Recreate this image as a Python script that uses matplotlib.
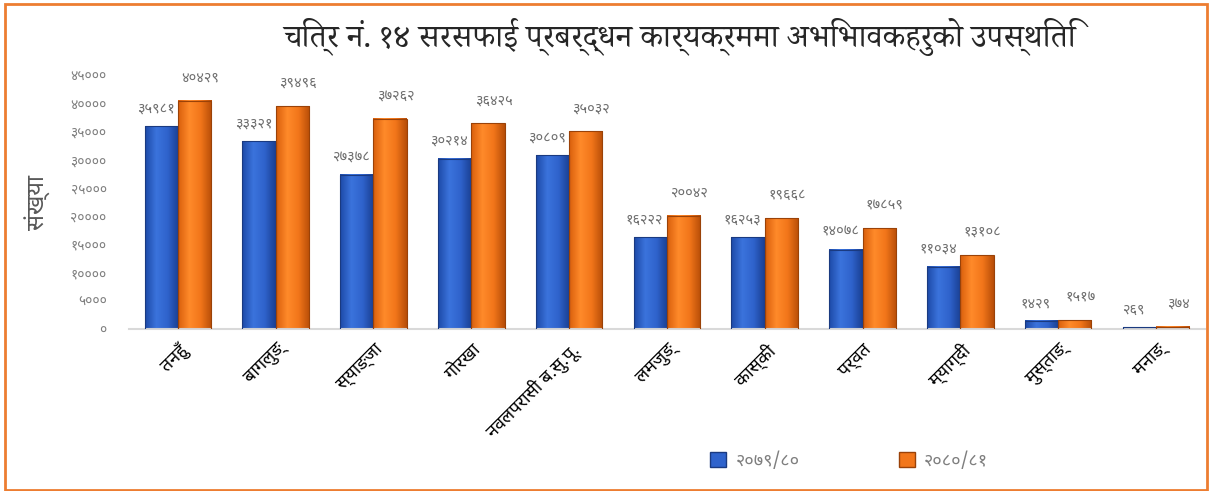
import numpy as np
import matplotlib
matplotlib.use("Agg")
import matplotlib.pyplot as plt
from matplotlib.patches import Rectangle
from matplotlib.colors import LinearSegmentedColormap

districts = ["तनहुँ", "बागलुङ्", "स्याङ्जा", "गोरखा", "नवलपरासी ब.सु.पू.", "लमजुङ्",
             "कास्की", "पर्वत", "म्याग्दी", "मुस्ताङ्", "मनाङ्"]
y2079 = [35981, 33321, 27378, 30214, 30809, 16222, 16253, 14078, 11034, 1429, 269]
y2080 = [40429, 39496, 37262, 36425, 35032, 20042, 19668, 17859, 13108, 1517, 374]
series_names = ["२०७९/८०", "२०८०/८१"]

DEV = str.maketrans("0123456789", "०१२३४५६७८९")
FONT = ["Noto Sans Devanagari", "DejaVu Sans"]
plt.rcParams["font.family"] = FONT

fig = plt.figure(figsize=(12.13, 4.91), dpi=100)
ax = fig.add_axes([0.1063, 0.330, 0.887, 0.517])

x = np.arange(len(districts))
w = 0.34
blue_cm = LinearSegmentedColormap.from_list("b", ["#1d4aa8", "#3b73dc", "#2f63cc", "#1a3f92"])
orange_cm = LinearSegmentedColormap.from_list("o", ["#d95f0c", "#ff8a2a", "#f2761a", "#b84e08"])
grad = np.linspace(0, 1, 64).reshape(1, -1)


def draw_bars(xs, vals, cmap, edge):
    for xi, v in zip(xs, vals):
        ax.imshow(grad, cmap=cmap, extent=[xi - w / 2, xi + w / 2, 0, v],
                  aspect="auto", zorder=2, origin="lower")
        ax.add_patch(Rectangle((xi - w / 2, 0), w, v, fill=False,
                               edgecolor=edge, linewidth=0.8, zorder=3))


draw_bars(x - w / 2, y2079, blue_cm, "#1a3a80")
draw_bars(x + w / 2, y2080, orange_cm, "#9a4208")

# data labels: blue ones sit low and left, orange ones a bit higher
for xi, v in zip(x - w / 2, y2079):
    ax.annotate(str(v).translate(DEV), (xi, v), xytext=(-4, 7), textcoords="offset points",
                ha="center", va="bottom", fontsize=10.5, color="#6f6f6f", annotation_clip=False)
for xi, v in zip(x + w / 2, y2080):
    ax.annotate(str(v).translate(DEV), (xi, v), xytext=(4, 11), textcoords="offset points",
                ha="center", va="bottom", fontsize=10.5, color="#6f6f6f", annotation_clip=False)

ax.set_xlim(-0.5, len(districts) - 0.5)
ax.set_ylim(0, 45000)
yt = np.arange(0, 45001, 5000)
ax.set_yticks(yt)
ax.set_yticklabels([str(v).translate(DEV) for v in yt], color="#7f7f7f", fontsize=10)
ax.set_xticks(x)
ax.set_xticklabels(districts, rotation=45, ha="right", rotation_mode="anchor",
                   fontsize=13, color="black")
ax.tick_params(axis="y", length=0, pad=16)
ax.tick_params(axis="x", length=0, pad=8)
for s in ["top", "right", "left"]:
    ax.spines[s].set_visible(False)
ax.spines["bottom"].set_color("#d9d9d9")
ax.spines["bottom"].set_linewidth(1.5)

ax.set_ylabel("संख्या", fontsize=17, fontweight="bold", color="#595959", labelpad=14)
fig.text(0.56, 0.925, "चित्र नं. १४ सरसफाई प्रबर्द्धन कार्यक्रममा अभिभावकहरुको उपस्थिति",
         ha="center", va="center", fontsize=23, color="#262626",
         family=["Noto Serif Devanagari", "Noto Sans Devanagari", "DejaVu Sans"])

handles = [Rectangle((0, 0), 1, 1, facecolor="#2f63cc", edgecolor="#1a3a80"),
           Rectangle((0, 0), 1, 1, facecolor="#f2761a", edgecolor="#9a4208")]
fig.legend(handles, series_names, loc="center", bbox_to_anchor=(0.70, 0.062), ncol=2,
           frameon=False, fontsize=13, labelcolor="#7f7f7f", handlelength=0.9,
           handleheight=0.9, columnspacing=5.5, handletextpad=0.5)

fig.add_artist(Rectangle((0.004, 0.002), 0.991, 0.99, transform=fig.transFigure,
                         fill=False, edgecolor="#ed7d31", linewidth=2))

fig.savefig("out.png", dpi=100)
